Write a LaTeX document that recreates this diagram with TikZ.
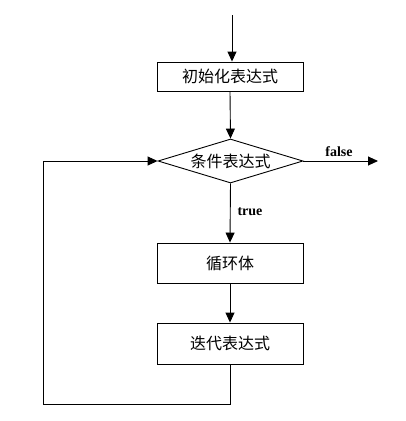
\documentclass[tikz,border=0pt]{standalone}
\usepackage{fontspec}
\setmainfont{Liberation Serif}
\newfontfamily\cjk{Noto Sans CJK SC}
\usetikzlibrary{arrows.meta,shapes.geometric}
\begin{document}
\begin{tikzpicture}[x=1pt,y=-1pt,line width=0.9pt,
  arr/.style={-{Triangle[length=10pt,width=9pt]}},
  procbox/.style={draw,minimum width=146pt,minimum height=29pt,inner sep=0pt,font=\cjk\fontsize{16}{18}\selectfont},
  decbox/.style={draw,diamond,aspect=3.3,minimum width=145pt,minimum height=44pt,inner sep=0pt,font=\cjk\fontsize{16}{18}\selectfont},
  lab/.style={font=\bfseries\fontsize{14}{16}\selectfont,inner sep=1pt}]
\useasboundingbox (0,0) rectangle (405,421);
\coordinate (start) at (232,15);
\node[procbox] (init) at (230,76.5) {初始化表达式};
\node[decbox] (cond) at (230.5,161) {条件表达式};
\node[procbox,minimum height=40pt] (body) at (230,263) {循环体};
\node[procbox,minimum height=41pt] (iter) at (230,343.5) {迭代表达式};
\coordinate (out) at (378,161);
\coordinate (c1) at (230,404);
\coordinate (c2) at (43,404);
\coordinate (c3) at (43,161);
\draw[arr] (start) -- (init.north -| start);
\draw[arr] (init.south) -- (cond.north);
\draw[arr] (cond.east) -- (out);
\draw[arr] (cond.south) -- (body.north);
\draw[arr] (body.south) -- (iter.north);
\draw[arr] (iter.south) -- (c1) -- (c2) -- (c3) -- (cond.west);
\node[lab] at (339,152) {false};
\node[lab] at (250,212) {true};
\end{tikzpicture}
\end{document}
